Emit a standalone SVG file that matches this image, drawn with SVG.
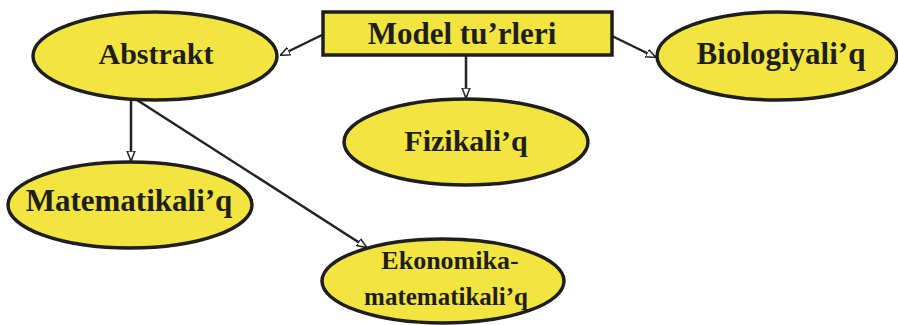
<svg xmlns="http://www.w3.org/2000/svg" width="898" height="325" viewBox="0 0 898 325">
<defs>
<style>
.n{fill:#f3e540;stroke:#1e1e1e;stroke-width:3.5}
.t{font-family:"Liberation Serif","Times New Roman",serif;font-weight:bold;fill:#1e1e1e;text-anchor:middle}
.c{stroke:#222;stroke-width:2.5;fill:none;marker-end:url(#ah)}
</style>
<marker id="ah" viewBox="0 0 10 10" refX="9" refY="5" markerWidth="4" markerHeight="4" orient="auto" markerUnits="strokeWidth">
<path d="M0,1 L10,5 L0,9 Z" fill="#fff" stroke="#222" stroke-width="1.5"/>
</marker>
</defs>
<rect width="898" height="325" fill="#fff"/>
<g id="connectors">
<line class="c" x1="322" y1="35" x2="281" y2="55"/>
<line class="c" x1="612" y1="36" x2="655" y2="57"/>
<line class="c" x1="466" y1="56" x2="466" y2="97"/>
<line class="c" x1="131" y1="100" x2="131" y2="160"/>
<line class="c" x1="137" y1="100" x2="366" y2="247"/>
</g>
<g id="model">
<rect class="n" x="323" y="12" width="289" height="43" stroke-width="4"/>
<text class="t" x="462" y="44" font-size="31">Model tu’rleri</text>
</g>
<g id="abstrakt">
<ellipse class="n" cx="155" cy="56" rx="122" ry="44"/>
<text class="t" x="156" y="64" font-size="30">Abstrakt</text>
</g>
<g id="biologiyaliq">
<ellipse class="n" cx="777" cy="56" rx="120" ry="44"/>
<text class="t" x="781" y="64" font-size="31">Biologiyali’q</text>
</g>
<g id="fizikaliq">
<ellipse class="n" cx="466" cy="142" rx="122" ry="43"/>
<text class="t" x="466" y="151" font-size="30">Fizikali’q</text>
</g>
<g id="matematikaliq">
<ellipse class="n" cx="130" cy="205" rx="122" ry="43"/>
<text class="t" x="129" y="211" font-size="31">Matematikali’q</text>
</g>
<g id="ekonomika">
<ellipse class="n" cx="443" cy="281" rx="121" ry="42"/>
<text class="t" x="450" y="269" font-size="26">Ekonomika-</text>
<text class="t" x="446" y="305" font-size="25">matematikali’q</text>
</g>
</svg>
